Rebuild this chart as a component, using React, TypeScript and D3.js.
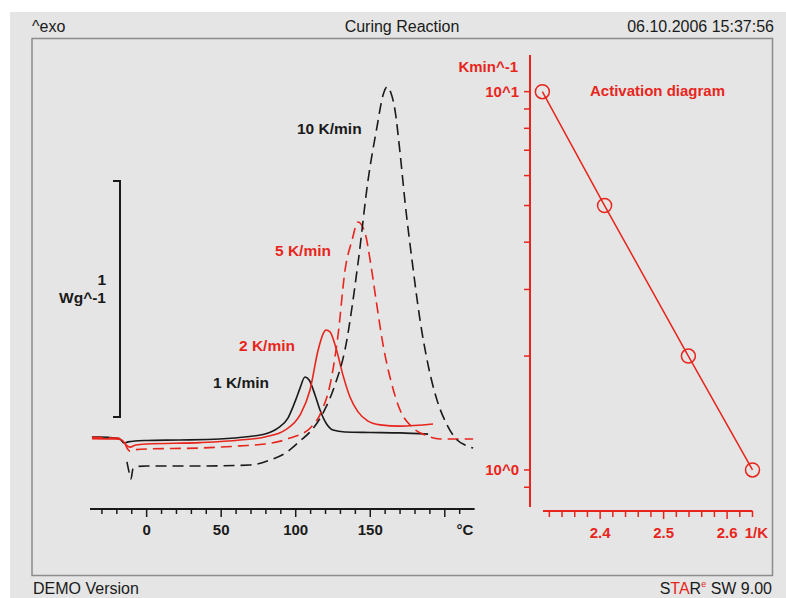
import * as d3 from 'd3';

const RED = '#e8251d';
const INK = '#1a1a1a';
const FONT = '"Liberation Sans", Arial, Helvetica, sans-serif';

// DSC curves: temperature (°C) and heat flow (W/g, offset)
const temp1 = [-36.7, -31, -21.3, -17.9, -15.2, -12.5, -7.8, 0, 22, 49, 69, 79.4, 88, 94.8, 100, 102.9, 106.2, 109, 113, 116.3, 120.3, 125, 133, 150, 170, 188.8];
const heat1 = [0.013, 0.013, 0.008, 0.004, -0.013, -0.008, -0.004, -0.002, 0, 0.004, 0.015, 0.025, 0.05, 0.093, 0.17, 0.22, 0.267, 0.254, 0.19, 0.127, 0.072, 0.042, 0.034, 0.032, 0.03, 0.025];

const temp2 = [-36.7, -21.3, -16.6, -13.9, -11.2, -7.2, 0, 35.8, 62.6, 79.4, 92.8, 102.9, 109.6, 115, 118.3, 120.3, 123, 127, 131.7, 136.4, 141.8, 148.5, 156.6, 170, 192.1];
const heat2 = [0.006, 0.004, 0, -0.021, -0.03, -0.021, -0.017, -0.011, 0, 0.013, 0.042, 0.106, 0.212, 0.38, 0.449, 0.466, 0.458, 0.39, 0.275, 0.182, 0.119, 0.08, 0.064, 0.059, 0.068];

const temp5 = [-36.7, -19.3, -15.2, -13.2, -11.2, -8.5, 0, 35.8, 62.6, 79.4, 96.2, 109.6, 117.7, 123, 128.4, 133.1, 137.8, 141.8, 146.5, 149.9, 153.9, 158.6, 164.6, 170, 178, 186.8, 196.8, 219];
const heat5 = [0.011, 0.008, -0.004, -0.034, -0.047, -0.042, -0.038, -0.034, -0.025, -0.017, 0.008, 0.05, 0.127, 0.233, 0.445, 0.72, 0.847, 0.924, 0.877, 0.763, 0.593, 0.403, 0.233, 0.127, 0.055, 0.021, 0.004, 0.004];

const temp10 = [-13.2, -11.8, -10.5, -9.2, -5.8, 0, 35.8, 69.3, 82.7, 94.2, 102.9, 109.6, 118.3, 126.3, 133, 141.8, 148.5, 154.5, 158.6, 161.3, 163.9, 166.6, 170, 173.4, 178, 183.4, 188.8, 194.8, 201.5, 208.3, 213.6, 219];
const heat10 = [-0.093, -0.136, -0.165, -0.123, -0.112, -0.11, -0.11, -0.106, -0.085, -0.051, -0.004, 0.034, 0.114, 0.233, 0.381, 0.75, 1.1, 1.326, 1.462, 1.496, 1.47, 1.398, 1.216, 1.004, 0.763, 0.508, 0.318, 0.169, 0.064, 0, -0.021, -0.034];

const tempMajor = [0, 50, 100, 150, 200];
const tempLabels = ['0', '50', '100', '150'];

// activation diagram
const invT = [2.309, 2.407, 2.539, 2.64];
const rates = [10, 5, 2, 1];
const invTLabels = [2.4, 2.5, 2.6];
const rateTicks = [0.9, 1, 2, 3, 4, 5, 6, 7, 8, 9, 10];

export default function App() {
  const x = d3.scaleLinear().domain([-38, 220]).range([90, 474.6]);
  const y = d3.scaleLinear().domain([0, 1]).range([440, 204]);

  const line = d3.line<[number, number]>()
    .x(d => x(d[0]))
    .y(d => y(d[1]))
    .curve(d3.curveMonotoneX);

  const zip = (a: number[], b: number[]) => a.map((t, i) => [t, b[i]] as [number, number]);

  const curves = [
    { d: line(zip(temp1, heat1)), color: INK, dash: null },
    { d: line(zip(temp2, heat2)), color: RED, dash: null },
    { d: line(zip(temp5, heat5)), color: RED, dash: '11,6' },
    { d: line(zip(temp10, heat10)), color: INK, dash: '11,6' },
  ];

  const ax = d3.scaleLinear().domain([2.31, 2.64]).range([543, 752.5]);
  const ay = d3.scaleLog().domain([0.8, 12.5]).range([506.6, 55]);
  const actLine = d3.line<number>()
    .x((_, i) => ax(invT[i]))
    .y(d => ay(d));

  const tempTicks = d3.range(-30, 211, 10);
  const invTTicks = d3.range(0, 17).map(i => 2.32 + i * 0.02);

  const lbl = { fontFamily: FONT, fontSize: 15, fontWeight: 700 } as const;
  const hdr = { fontFamily: FONT, fontSize: 16 } as const;
  const barTop = y(1) - 23;
  const barBottom = y(0) - 23;

  return (
    <svg width={786} height={598} style={{ position: 'absolute', left: 0, top: 0 }}>
      <rect x={0} y={0} width={786} height={598} fill="#fff" />
      <rect x={10} y={12} width={776} height={586} fill="#e4e5e4" />
      <rect x={32} y={38.5} width={740.5} height={537} fill="none" stroke="#8c8c8c" strokeWidth={1.5} />

      <text x={32} y={32} {...hdr} fill={INK}>^exo</text>
      <text x={402} y={32} {...hdr} fill={INK} textAnchor="middle">Curing Reaction</text>
      <text x={774} y={32} {...hdr} fill={INK} textAnchor="end">06.10.2006 15:37:56</text>
      <text x={33} y={594} {...hdr} fill={INK}>DEMO Version</text>
      <text x={772} y={594} {...hdr} fill={INK} textAnchor="end">
        <tspan>S</tspan><tspan fill={RED}>TA</tspan><tspan>R</tspan>
        <tspan fill={RED} fontSize={9} dy={-7}>e</tspan>
        <tspan dy={7}> SW 9.00</tspan>
      </text>

      {/* scale bar: 1 W/g */}
      <path d={`M113,${barTop}H120V${barBottom}H113`} fill="none" stroke={INK} strokeWidth={2} />
      <text x={106} y={285} {...lbl} fontSize={15.5} fill={INK} textAnchor="end">1</text>
      <text x={106} y={303} {...lbl} fontSize={15.5} fill={INK} textAnchor="end">Wg^-1</text>

      {/* DSC curves */}
      {curves.map((c, i) => (
        <path key={i} d={c.d ?? ''} fill="none" stroke={c.color} strokeWidth={1.6}
          strokeDasharray={c.dash ?? undefined} />
      ))}
      <text x={297} y={134} {...lbl} fontSize={15.5} fill={INK}>10 K/min</text>
      <text x={275} y={256} {...lbl} fontSize={15.5} fill={RED}>5 K/min</text>
      <text x={239} y={351} {...lbl} fontSize={15.5} fill={RED}>2 K/min</text>
      <text x={213} y={388} {...lbl} fontSize={15.5} fill={INK}>1 K/min</text>

      {/* temperature axis */}
      <line x1={90} x2={474.6} y1={509} y2={509} stroke={INK} strokeWidth={2} />
      {tempTicks.map(t => (
        <line key={t} x1={x(t)} x2={x(t)} y1={509}
          y2={tempMajor.includes(t) ? 517 : 514} stroke={INK} strokeWidth={1.5} />
      ))}
      {tempLabels.map((s, i) => (
        <text key={s} x={x(tempMajor[i])} y={535} {...lbl} fill={INK} textAnchor="middle">{s}</text>
      ))}
      <text x={465} y={535} {...lbl} fill={INK} textAnchor="middle">°C</text>

      {/* activation diagram */}
      <line x1={530} x2={530} y1={55} y2={507} stroke={RED} strokeWidth={2} />
      {rateTicks.map(r => (
        <line key={r} x1={524} x2={530} y1={ay(r)} y2={ay(r)} stroke={RED} strokeWidth={1.5} />
      ))}
      <text x={519} y={97} {...lbl} fill={RED} textAnchor="end">10^1</text>
      <text x={519} y={475} {...lbl} fill={RED} textAnchor="end">10^0</text>
      <text x={518} y={72} {...lbl} fill={RED} textAnchor="end">Kmin^-1</text>

      <line x1={543} x2={752.5} y1={511} y2={511} stroke={RED} strokeWidth={2} />
      {invTTicks.map(v => {
        const major = invTLabels.some(m => Math.abs(m - v) < 1e-6);
        return <line key={v} x1={ax(v)} x2={ax(v)} y1={511} y2={major ? 519 : 517} stroke={RED} strokeWidth={1.5} />;
      })}
      {invTLabels.map(v => (
        <text key={v} x={ax(v)} y={538} {...lbl} fill={RED} textAnchor="middle">{v.toFixed(1)}</text>
      ))}
      <text x={768} y={538} {...lbl} fill={RED} textAnchor="end">1/K</text>

      <path d={actLine(rates) ?? ''} fill="none" stroke={RED} strokeWidth={1.5} />
      {rates.map((r, i) => (
        <circle key={r} cx={ax(invT[i])} cy={ay(r)} r={7} fill="none" stroke={RED} strokeWidth={1.5} />
      ))}
      <text x={590} y={96} {...lbl} fill={RED}>Activation diagram</text>
    </svg>
  );
}
